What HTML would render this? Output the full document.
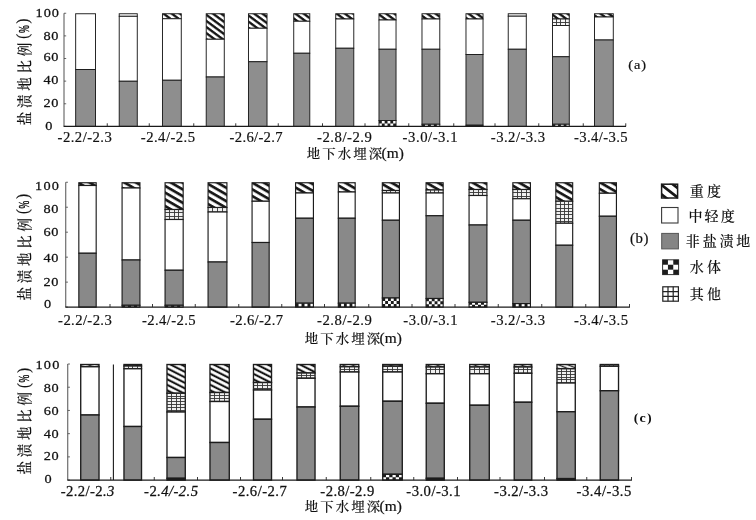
<!DOCTYPE html>
<html lang="zh">
<head>
<meta charset="utf-8">
<title>盐渍地比例 - 地下水埋深</title>
<style>html,body{margin:0;padding:0;background:#fff;}body{width:756px;height:520px;overflow:hidden;}svg{display:block;}</style>
</head>
<body>
<svg width="756" height="520" viewBox="0 0 756 520">
<defs>
<pattern id="pha" patternUnits="userSpaceOnUse" width="10" height="6.1" patternTransform="skewY(36.5)"><rect width="10" height="6.1" fill="#fff"/><rect y="1.0" width="10" height="2.9" fill="#151515"/></pattern>
<pattern id="phb" patternUnits="userSpaceOnUse" width="10" height="6.7" patternTransform="skewY(30)"><rect width="10" height="6.7" fill="#fff"/><rect y="2.0" width="10" height="3.1" fill="#151515"/></pattern>
<pattern id="phc" patternUnits="userSpaceOnUse" width="10" height="5.5" patternTransform="skewY(27)"><rect width="10" height="5.5" fill="#fff"/><rect y="1.5" width="10" height="2.35" fill="#151515"/></pattern>
<pattern id="phc2" patternUnits="userSpaceOnUse" width="10" height="3.8" patternTransform="skewY(22)"><rect width="10" height="3.8" fill="#fff"/><rect y="1.6" width="10" height="1.5" fill="#222"/></pattern>
</defs>
<rect width="756" height="520" fill="#fff"/>
<g class="chart-a">
<path d="M64.0 13.25V126.4" stroke="#3c3c3c" stroke-width="0.9" fill="none"/>
<path d="M64.0 13.25h2.2" stroke="#444" stroke-width="0.8" fill="none"/>
<path d="M64.0 35.88h2.2" stroke="#444" stroke-width="0.8" fill="none"/>
<path d="M64.0 58.51h2.2" stroke="#444" stroke-width="0.8" fill="none"/>
<path d="M64.0 81.14h2.2" stroke="#444" stroke-width="0.8" fill="none"/>
<path d="M64.0 103.77h2.2" stroke="#444" stroke-width="0.8" fill="none"/>
<path d="M64.0 126.40h2.2" stroke="#444" stroke-width="0.8" fill="none"/>
<rect x="75.67" y="13.75" width="19.85" height="55.75" fill="#fff" stroke="#1c1c1c" stroke-width="0.95"/>
<rect x="75.67" y="69.50" width="19.85" height="56.90" fill="#8e8e8e" stroke="#1c1c1c" stroke-width="0.95"/>
<rect x="119.22" y="13.75" width="18.05" height="2.55" fill="#fff" stroke="#1c1c1c" stroke-width="0.95"/>
<rect x="119.22" y="16.30" width="18.05" height="64.95" fill="#fff" stroke="#1c1c1c" stroke-width="0.95"/>
<rect x="119.22" y="81.25" width="18.05" height="45.15" fill="#8e8e8e" stroke="#1c1c1c" stroke-width="0.95"/>
<rect x="162.47" y="13.75" width="18.80" height="5.00" fill="url(#pha)" stroke="#1c1c1c" stroke-width="0.95"/>
<rect x="162.47" y="18.75" width="18.80" height="61.50" fill="#fff" stroke="#1c1c1c" stroke-width="0.95"/>
<rect x="162.47" y="80.25" width="18.80" height="46.15" fill="#8e8e8e" stroke="#1c1c1c" stroke-width="0.95"/>
<rect x="206.22" y="13.75" width="18.05" height="25.50" fill="url(#pha)" stroke="#1c1c1c" stroke-width="0.95"/>
<rect x="206.22" y="39.25" width="18.05" height="37.75" fill="#fff" stroke="#1c1c1c" stroke-width="0.95"/>
<rect x="206.22" y="77.00" width="18.05" height="49.40" fill="#8e8e8e" stroke="#1c1c1c" stroke-width="0.95"/>
<rect x="248.47" y="13.75" width="18.55" height="14.50" fill="url(#pha)" stroke="#1c1c1c" stroke-width="0.95"/>
<rect x="248.47" y="28.25" width="18.55" height="33.50" fill="#fff" stroke="#1c1c1c" stroke-width="0.95"/>
<rect x="248.47" y="61.75" width="18.55" height="64.65" fill="#8e8e8e" stroke="#1c1c1c" stroke-width="0.95"/>
<rect x="293.73" y="13.75" width="16.05" height="7.50" fill="url(#pha)" stroke="#1c1c1c" stroke-width="0.95"/>
<rect x="293.73" y="21.25" width="16.05" height="32.00" fill="#fff" stroke="#1c1c1c" stroke-width="0.95"/>
<rect x="293.73" y="53.25" width="16.05" height="73.15" fill="#8e8e8e" stroke="#1c1c1c" stroke-width="0.95"/>
<rect x="335.73" y="13.75" width="18.05" height="5.25" fill="url(#pha)" stroke="#1c1c1c" stroke-width="0.95"/>
<rect x="335.73" y="19.00" width="18.05" height="29.25" fill="#fff" stroke="#1c1c1c" stroke-width="0.95"/>
<rect x="335.73" y="48.25" width="18.05" height="78.15" fill="#8e8e8e" stroke="#1c1c1c" stroke-width="0.95"/>
<rect x="378.98" y="13.75" width="17.05" height="6.25" fill="url(#pha)" stroke="#1c1c1c" stroke-width="0.95"/>
<rect x="378.98" y="20.00" width="17.05" height="29.25" fill="#fff" stroke="#1c1c1c" stroke-width="0.95"/>
<rect x="378.98" y="49.25" width="17.05" height="71.25" fill="#8e8e8e" stroke="#1c1c1c" stroke-width="0.95"/>
<rect x="378.98" y="120.50" width="17.05" height="5.90" fill="#fff" stroke="#1c1c1c" stroke-width="0.95"/>
<path d="M378.98 120.50h2.84v2.95h-2.84zM384.66 120.50h2.84v2.95h-2.84zM390.34 120.50h2.84v2.95h-2.84zM381.82 123.45h2.84v2.95h-2.84zM387.50 123.45h2.84v2.95h-2.84zM393.18 123.45h2.84v2.95h-2.84z" fill="#1c1c1c"/>
<rect x="421.98" y="13.75" width="17.80" height="5.25" fill="url(#pha)" stroke="#1c1c1c" stroke-width="0.95"/>
<rect x="421.98" y="19.00" width="17.80" height="30.25" fill="#fff" stroke="#1c1c1c" stroke-width="0.95"/>
<rect x="421.98" y="49.25" width="17.80" height="75.00" fill="#8e8e8e" stroke="#1c1c1c" stroke-width="0.95"/>
<rect x="421.98" y="124.25" width="17.80" height="2.15" fill="#fff" stroke="#1c1c1c" stroke-width="0.95"/>
<path d="M421.98 124.25h2.97v2.15h-2.97zM427.91 124.25h2.97v2.15h-2.97zM433.84 124.25h2.97v2.15h-2.97z" fill="#1c1c1c"/>
<rect x="465.98" y="13.75" width="17.05" height="5.25" fill="url(#pha)" stroke="#1c1c1c" stroke-width="0.95"/>
<rect x="465.98" y="19.00" width="17.05" height="35.50" fill="#fff" stroke="#1c1c1c" stroke-width="0.95"/>
<rect x="465.98" y="54.50" width="17.05" height="70.70" fill="#8e8e8e" stroke="#1c1c1c" stroke-width="0.95"/>
<rect x="465.98" y="125.20" width="17.05" height="1.20" fill="#222" stroke="#1c1c1c" stroke-width="0.95"/>
<rect x="508.23" y="13.75" width="18.05" height="2.45" fill="#fff" stroke="#1c1c1c" stroke-width="0.95"/>
<rect x="508.23" y="16.20" width="18.05" height="33.05" fill="#fff" stroke="#1c1c1c" stroke-width="0.95"/>
<rect x="508.23" y="49.25" width="18.05" height="77.15" fill="#8e8e8e" stroke="#1c1c1c" stroke-width="0.95"/>
<rect x="552.48" y="13.75" width="16.80" height="5.25" fill="url(#pha)" stroke="#1c1c1c" stroke-width="0.95"/>
<rect x="552.48" y="19.00" width="16.80" height="6.50" fill="#f4f4f4" stroke="#1c1c1c" stroke-width="0.95"/>
<path d="M556.50 19.00V25.50M560.50 19.00V25.50M565.50 19.00V25.50M552.48 22.50h16.80" stroke="#333" stroke-width="0.9" fill="none"/>
<rect x="552.48" y="25.50" width="16.80" height="31.25" fill="#fff" stroke="#1c1c1c" stroke-width="0.95"/>
<rect x="552.48" y="56.75" width="16.80" height="67.50" fill="#8e8e8e" stroke="#1c1c1c" stroke-width="0.95"/>
<rect x="552.48" y="124.25" width="16.80" height="2.15" fill="#fff" stroke="#1c1c1c" stroke-width="0.95"/>
<path d="M552.48 124.25h2.80v2.15h-2.80zM558.08 124.25h2.80v2.15h-2.80zM563.67 124.25h2.80v2.15h-2.80z" fill="#1c1c1c"/>
<rect x="594.48" y="13.75" width="18.80" height="3.25" fill="url(#pha)" stroke="#1c1c1c" stroke-width="0.95"/>
<rect x="594.48" y="17.00" width="18.80" height="23.00" fill="#fff" stroke="#1c1c1c" stroke-width="0.95"/>
<rect x="594.48" y="40.00" width="18.80" height="86.40" fill="#8e8e8e" stroke="#1c1c1c" stroke-width="0.95"/>
<path d="M63.6 126.4H626.0" stroke="#1a1a1a" stroke-width="1.1" fill="none"/>
<path d="M107.25 126.4v-3.1" stroke="#222" stroke-width="0.9" fill="none"/>
<path d="M149.25 126.4v-3.1" stroke="#222" stroke-width="0.9" fill="none"/>
<path d="M193.75 126.4v-3.1" stroke="#222" stroke-width="0.9" fill="none"/>
<path d="M235.75 126.4v-3.1" stroke="#222" stroke-width="0.9" fill="none"/>
<path d="M278.25 126.4v-3.1" stroke="#222" stroke-width="0.9" fill="none"/>
<path d="M322.50 126.4v-3.1" stroke="#222" stroke-width="0.9" fill="none"/>
<path d="M365.00 126.4v-3.1" stroke="#222" stroke-width="0.9" fill="none"/>
<path d="M408.75 126.4v-3.1" stroke="#222" stroke-width="0.9" fill="none"/>
<path d="M453.75 126.4v-3.1" stroke="#222" stroke-width="0.9" fill="none"/>
<path d="M495.00 126.4v-3.1" stroke="#222" stroke-width="0.9" fill="none"/>
<path d="M538.75 126.4v-3.1" stroke="#222" stroke-width="0.9" fill="none"/>
<path d="M583.25 126.4v-3.1" stroke="#222" stroke-width="0.9" fill="none"/>
<path d="M625.75 126.4v-3.1" stroke="#222" stroke-width="0.9" fill="none"/>
<text transform="translate(57.60,142.00) scale(1.08,1.0)" font-family='"Liberation Serif", serif' font-size="13.6" letter-spacing="0.421" fill="#111" stroke="#111" stroke-width="0.18">-2.2/-2.3</text>
<text transform="translate(140.85,142.00) scale(1.08,1.0)" font-family='"Liberation Serif", serif' font-size="13.6" letter-spacing="0.421" fill="#111" stroke="#111" stroke-width="0.18">-2.4/-2.5</text>
<text transform="translate(229.60,142.00) scale(1.08,1.0)" font-family='"Liberation Serif", serif' font-size="13.6" letter-spacing="0.276" fill="#111" stroke="#111" stroke-width="0.18">-2.6/-2.7</text>
<text transform="translate(317.10,142.00) scale(1.08,1.0)" font-family='"Liberation Serif", serif' font-size="13.6" letter-spacing="0.479" fill="#111" stroke="#111" stroke-width="0.18">-2.8/-2.9</text>
<text transform="translate(402.60,142.00) scale(1.08,1.0)" font-family='"Liberation Serif", serif' font-size="13.6" letter-spacing="0.508" fill="#111" stroke="#111" stroke-width="0.18">-3.0/-3.1</text>
<text transform="translate(490.85,142.00) scale(1.08,1.0)" font-family='"Liberation Serif", serif' font-size="13.6" letter-spacing="0.421" fill="#111" stroke="#111" stroke-width="0.18">-3.2/-3.3</text>
<text transform="translate(574.10,142.00) scale(1.08,1.0)" font-family='"Liberation Serif", serif' font-size="13.6" letter-spacing="0.334" fill="#111" stroke="#111" stroke-width="0.18">-3.4/-3.5</text>
<text transform="translate(35.40,16.90) scale(1.06,1.0)" font-family='"Liberation Serif", serif' font-size="13.5" letter-spacing="1.017" fill="#111" stroke="#111" stroke-width="0.26">100</text>
<text transform="translate(43.40,39.50) scale(1.06,1.0)" font-family='"Liberation Serif", serif' font-size="13.5" letter-spacing="0.608" fill="#111" stroke="#111" stroke-width="0.26">80</text>
<text transform="translate(43.40,61.30) scale(1.06,1.0)" font-family='"Liberation Serif", serif' font-size="13.5" letter-spacing="0.608" fill="#111" stroke="#111" stroke-width="0.26">60</text>
<text transform="translate(43.40,84.20) scale(1.06,1.0)" font-family='"Liberation Serif", serif' font-size="13.5" letter-spacing="0.608" fill="#111" stroke="#111" stroke-width="0.26">40</text>
<text transform="translate(43.40,107.40) scale(1.06,1.0)" font-family='"Liberation Serif", serif' font-size="13.5" letter-spacing="0.608" fill="#111" stroke="#111" stroke-width="0.26">20</text>
<text transform="translate(45.30,129.70) scale(1.06,1.0)" font-family='"Liberation Serif", serif' font-size="13.5" letter-spacing="0.000" fill="#111" stroke="#111" stroke-width="0.26">0</text>
<text transform="translate(306.70,158.40) scale(1.06,1.0)" font-family='"Liberation Serif", "Noto Serif CJK SC", serif' font-size="12.7" font-weight="500" letter-spacing="1.920" fill="#111" stroke="#111" stroke-width="0.1">地下水埋深<tspan font-size="14.5" letter-spacing="0" dx="-2.4" dy="-0.1" stroke-width="0.2">(m)</tspan></text>
<text transform="translate(29.70,125.30) rotate(-90) scale(1.0,1.1)" font-family='"Liberation Serif", "Noto Serif CJK SC", serif' font-size="13.5" font-weight="500" letter-spacing="3.750" fill="#111" stroke="#111" stroke-width="0.1">盐渍地比例<tspan font-size="14.5" letter-spacing="0" dx="0.35" dy="-1.4" stroke-width="0.2">(</tspan><tspan font-size="14.1" letter-spacing="0" dx="0.8" dy="0.55" textLength="7.75" lengthAdjust="spacingAndGlyphs" stroke-width="0.4">%</tspan><tspan font-size="14.5" letter-spacing="0" dx="1.85" dy="-0.55" stroke-width="0.2">)</tspan></text>
<text transform="translate(628.31,69.25) scale(1.15,1.0)" font-family='"Liberation Serif", serif' font-size="12.5" letter-spacing="0.795" fill="#111" stroke="#111" stroke-width="0.2">(a)</text>
</g>
<g class="chart-b">
<path d="M65.75 182.25V307.1" stroke="#3c3c3c" stroke-width="0.9" fill="none"/>
<path d="M65.75 182.25h2.2" stroke="#444" stroke-width="0.8" fill="none"/>
<path d="M65.75 207.22h2.2" stroke="#444" stroke-width="0.8" fill="none"/>
<path d="M65.75 232.19h2.2" stroke="#444" stroke-width="0.8" fill="none"/>
<path d="M65.75 257.16h2.2" stroke="#444" stroke-width="0.8" fill="none"/>
<path d="M65.75 282.13h2.2" stroke="#444" stroke-width="0.8" fill="none"/>
<path d="M65.75 307.10h2.2" stroke="#444" stroke-width="0.8" fill="none"/>
<rect x="78.83" y="182.75" width="17.35" height="2.75" fill="url(#phb)" stroke="#1c1c1c" stroke-width="1.15"/>
<rect x="78.83" y="185.50" width="17.35" height="67.75" fill="#fff" stroke="#1c1c1c" stroke-width="1.15"/>
<rect x="78.83" y="253.25" width="17.35" height="53.85" fill="#898989" stroke="#1c1c1c" stroke-width="1.15"/>
<rect x="122.08" y="182.75" width="17.85" height="5.25" fill="url(#phb)" stroke="#1c1c1c" stroke-width="1.15"/>
<rect x="122.08" y="188.00" width="17.85" height="72.00" fill="#fff" stroke="#1c1c1c" stroke-width="1.15"/>
<rect x="122.08" y="260.00" width="17.85" height="45.30" fill="#898989" stroke="#1c1c1c" stroke-width="1.15"/>
<rect x="122.08" y="305.30" width="17.85" height="1.80" fill="#fff" stroke="#1c1c1c" stroke-width="1.15"/>
<path d="M122.08 305.30h2.98v1.80h-2.98zM128.03 305.30h2.98v1.80h-2.98zM133.98 305.30h2.98v1.80h-2.98z" fill="#1c1c1c"/>
<rect x="165.07" y="182.75" width="18.10" height="26.75" fill="url(#phb)" stroke="#1c1c1c" stroke-width="1.15"/>
<rect x="165.07" y="209.50" width="18.10" height="10.00" fill="#f0f0f0" stroke="#1c1c1c" stroke-width="1.15"/>
<path d="M169.50 209.50V219.50M174.50 209.50V219.50M178.50 209.50V219.50M165.07 212.50h18.10M165.07 216.50h18.10" stroke="#333" stroke-width="0.9" fill="none"/>
<rect x="165.07" y="219.50" width="18.10" height="50.75" fill="#fff" stroke="#1c1c1c" stroke-width="1.15"/>
<rect x="165.07" y="270.25" width="18.10" height="35.05" fill="#898989" stroke="#1c1c1c" stroke-width="1.15"/>
<rect x="165.07" y="305.30" width="18.10" height="1.80" fill="#fff" stroke="#1c1c1c" stroke-width="1.15"/>
<path d="M165.07 305.30h3.02v1.80h-3.02zM171.11 305.30h3.02v1.80h-3.02zM177.14 305.30h3.02v1.80h-3.02z" fill="#1c1c1c"/>
<rect x="208.07" y="182.75" width="18.85" height="24.75" fill="url(#phb)" stroke="#1c1c1c" stroke-width="1.15"/>
<rect x="208.07" y="207.50" width="18.85" height="4.50" fill="#f0f0f0" stroke="#1c1c1c" stroke-width="1.15"/>
<path d="M212.50 207.50V212.00M217.50 207.50V212.00M222.50 207.50V212.00" stroke="#333" stroke-width="0.9" fill="none"/>
<rect x="208.07" y="212.00" width="18.85" height="50.00" fill="#fff" stroke="#1c1c1c" stroke-width="1.15"/>
<rect x="208.07" y="262.00" width="18.85" height="45.10" fill="#898989" stroke="#1c1c1c" stroke-width="1.15"/>
<rect x="252.07" y="182.75" width="17.10" height="18.50" fill="url(#phb)" stroke="#1c1c1c" stroke-width="1.15"/>
<rect x="252.07" y="201.25" width="17.10" height="41.25" fill="#fff" stroke="#1c1c1c" stroke-width="1.15"/>
<rect x="252.07" y="242.50" width="17.10" height="64.60" fill="#898989" stroke="#1c1c1c" stroke-width="1.15"/>
<rect x="295.57" y="182.75" width="17.85" height="10.25" fill="url(#phb)" stroke="#1c1c1c" stroke-width="1.15"/>
<rect x="295.57" y="193.00" width="17.85" height="25.25" fill="#fff" stroke="#1c1c1c" stroke-width="1.15"/>
<rect x="295.57" y="218.25" width="17.85" height="84.95" fill="#898989" stroke="#1c1c1c" stroke-width="1.15"/>
<rect x="295.57" y="303.20" width="17.85" height="3.90" fill="#fff" stroke="#1c1c1c" stroke-width="1.15"/>
<path d="M295.57 303.20h2.98v3.90h-2.98zM301.52 303.20h2.98v3.90h-2.98zM307.48 303.20h2.98v3.90h-2.98z" fill="#1c1c1c"/>
<rect x="338.32" y="182.75" width="16.85" height="9.25" fill="url(#phb)" stroke="#1c1c1c" stroke-width="1.15"/>
<rect x="338.32" y="192.00" width="16.85" height="26.25" fill="#fff" stroke="#1c1c1c" stroke-width="1.15"/>
<rect x="338.32" y="218.25" width="16.85" height="84.95" fill="#898989" stroke="#1c1c1c" stroke-width="1.15"/>
<rect x="338.32" y="303.20" width="16.85" height="3.90" fill="#fff" stroke="#1c1c1c" stroke-width="1.15"/>
<path d="M338.32 303.20h2.81v3.90h-2.81zM343.94 303.20h2.81v3.90h-2.81zM349.56 303.20h2.81v3.90h-2.81z" fill="#1c1c1c"/>
<rect x="382.32" y="182.75" width="17.10" height="7.75" fill="url(#phb)" stroke="#1c1c1c" stroke-width="1.15"/>
<rect x="382.32" y="190.50" width="17.10" height="2.50" fill="#f0f0f0" stroke="#1c1c1c" stroke-width="1.15"/>
<path d="M386.50 190.50V193.00M390.50 190.50V193.00M395.50 190.50V193.00" stroke="#333" stroke-width="0.9" fill="none"/>
<rect x="382.32" y="193.00" width="17.10" height="27.25" fill="#fff" stroke="#1c1c1c" stroke-width="1.15"/>
<rect x="382.32" y="220.25" width="17.10" height="77.75" fill="#898989" stroke="#1c1c1c" stroke-width="1.15"/>
<rect x="382.32" y="298.00" width="17.10" height="9.10" fill="#fff" stroke="#1c1c1c" stroke-width="1.15"/>
<path d="M382.32 298.00h2.85v3.03h-2.85zM388.02 298.00h2.85v3.03h-2.85zM393.73 298.00h2.85v3.03h-2.85zM385.18 301.03h2.85v3.03h-2.85zM390.88 301.03h2.85v3.03h-2.85zM396.57 301.03h2.85v3.03h-2.85zM382.32 304.07h2.85v3.03h-2.85zM388.02 304.07h2.85v3.03h-2.85zM393.73 304.07h2.85v3.03h-2.85z" fill="#1c1c1c"/>
<rect x="426.07" y="182.75" width="17.10" height="7.25" fill="url(#phb)" stroke="#1c1c1c" stroke-width="1.15"/>
<rect x="426.07" y="190.00" width="17.10" height="3.00" fill="#f0f0f0" stroke="#1c1c1c" stroke-width="1.15"/>
<path d="M430.50 190.00V193.00M434.50 190.00V193.00M438.50 190.00V193.00" stroke="#333" stroke-width="0.9" fill="none"/>
<rect x="426.07" y="193.00" width="17.10" height="22.75" fill="#fff" stroke="#1c1c1c" stroke-width="1.15"/>
<rect x="426.07" y="215.75" width="17.10" height="82.75" fill="#898989" stroke="#1c1c1c" stroke-width="1.15"/>
<rect x="426.07" y="298.50" width="17.10" height="8.60" fill="#fff" stroke="#1c1c1c" stroke-width="1.15"/>
<path d="M426.07 298.50h2.85v2.87h-2.85zM431.77 298.50h2.85v2.87h-2.85zM437.48 298.50h2.85v2.87h-2.85zM428.93 301.37h2.85v2.87h-2.85zM434.62 301.37h2.85v2.87h-2.85zM440.32 301.37h2.85v2.87h-2.85zM426.07 304.23h2.85v2.87h-2.85zM431.77 304.23h2.85v2.87h-2.85zM437.48 304.23h2.85v2.87h-2.85z" fill="#1c1c1c"/>
<rect x="469.07" y="182.75" width="17.85" height="6.75" fill="url(#phb)" stroke="#1c1c1c" stroke-width="1.15"/>
<rect x="469.07" y="189.50" width="17.85" height="6.00" fill="#f0f0f0" stroke="#1c1c1c" stroke-width="1.15"/>
<path d="M473.50 189.50V195.50M478.50 189.50V195.50M482.50 189.50V195.50M469.07 192.50h17.85" stroke="#333" stroke-width="0.9" fill="none"/>
<rect x="469.07" y="195.50" width="17.85" height="29.50" fill="#fff" stroke="#1c1c1c" stroke-width="1.15"/>
<rect x="469.07" y="225.00" width="17.85" height="77.30" fill="#898989" stroke="#1c1c1c" stroke-width="1.15"/>
<rect x="469.07" y="302.30" width="17.85" height="4.80" fill="#fff" stroke="#1c1c1c" stroke-width="1.15"/>
<path d="M469.07 302.30h2.98v2.40h-2.98zM475.02 302.30h2.98v2.40h-2.98zM480.98 302.30h2.98v2.40h-2.98zM472.05 304.70h2.98v2.40h-2.98zM478.00 304.70h2.98v2.40h-2.98zM483.95 304.70h2.98v2.40h-2.98z" fill="#1c1c1c"/>
<rect x="512.83" y="182.75" width="17.60" height="6.75" fill="url(#phb)" stroke="#1c1c1c" stroke-width="1.15"/>
<rect x="512.83" y="189.50" width="17.60" height="9.25" fill="#f0f0f0" stroke="#1c1c1c" stroke-width="1.15"/>
<path d="M517.50 189.50V198.75M521.50 189.50V198.75M526.50 189.50V198.75M512.83 192.50h17.60M512.83 196.50h17.60" stroke="#333" stroke-width="0.9" fill="none"/>
<rect x="512.83" y="198.75" width="17.60" height="21.50" fill="#fff" stroke="#1c1c1c" stroke-width="1.15"/>
<rect x="512.83" y="220.25" width="17.60" height="83.35" fill="#898989" stroke="#1c1c1c" stroke-width="1.15"/>
<rect x="512.83" y="303.60" width="17.60" height="3.50" fill="#fff" stroke="#1c1c1c" stroke-width="1.15"/>
<path d="M512.83 303.60h2.93v3.50h-2.93zM518.69 303.60h2.93v3.50h-2.93zM524.56 303.60h2.93v3.50h-2.93z" fill="#1c1c1c"/>
<rect x="555.83" y="182.75" width="16.85" height="18.50" fill="url(#phb)" stroke="#1c1c1c" stroke-width="1.15"/>
<rect x="555.83" y="201.25" width="16.85" height="22.00" fill="#f0f0f0" stroke="#1c1c1c" stroke-width="1.15"/>
<path d="M560.50 201.25V223.25M564.50 201.25V223.25M568.50 201.25V223.25M555.83 204.50h16.85M555.83 208.50h16.85M555.83 211.50h16.85M555.83 214.50h16.85M555.83 218.50h16.85M555.83 221.50h16.85" stroke="#333" stroke-width="0.9" fill="none"/>
<rect x="555.83" y="223.25" width="16.85" height="22.00" fill="#fff" stroke="#1c1c1c" stroke-width="1.15"/>
<rect x="555.83" y="245.25" width="16.85" height="61.85" fill="#898989" stroke="#1c1c1c" stroke-width="1.15"/>
<rect x="599.33" y="182.75" width="17.10" height="10.50" fill="url(#phb)" stroke="#1c1c1c" stroke-width="1.15"/>
<rect x="599.33" y="193.25" width="17.10" height="23.00" fill="#fff" stroke="#1c1c1c" stroke-width="1.15"/>
<rect x="599.33" y="216.25" width="17.10" height="90.85" fill="#898989" stroke="#1c1c1c" stroke-width="1.15"/>
<path d="M65.35 307.1H629.9" stroke="#1a1a1a" stroke-width="1.1" fill="none"/>
<path d="M110.00 307.1v-3.1" stroke="#222" stroke-width="0.9" fill="none"/>
<path d="M152.50 307.1v-3.1" stroke="#222" stroke-width="0.9" fill="none"/>
<path d="M195.25 307.1v-3.1" stroke="#222" stroke-width="0.9" fill="none"/>
<path d="M238.75 307.1v-3.1" stroke="#222" stroke-width="0.9" fill="none"/>
<path d="M281.75 307.1v-3.1" stroke="#222" stroke-width="0.9" fill="none"/>
<path d="M324.50 307.1v-3.1" stroke="#222" stroke-width="0.9" fill="none"/>
<path d="M368.75 307.1v-3.1" stroke="#222" stroke-width="0.9" fill="none"/>
<path d="M412.00 307.1v-3.1" stroke="#222" stroke-width="0.9" fill="none"/>
<path d="M455.00 307.1v-3.1" stroke="#222" stroke-width="0.9" fill="none"/>
<path d="M498.25 307.1v-3.1" stroke="#222" stroke-width="0.9" fill="none"/>
<path d="M541.75 307.1v-3.1" stroke="#222" stroke-width="0.9" fill="none"/>
<path d="M585.75 307.1v-3.1" stroke="#222" stroke-width="0.9" fill="none"/>
<path d="M629.50 307.1v-3.1" stroke="#222" stroke-width="0.9" fill="none"/>
<text transform="translate(58.10,325.30) scale(1.08,1.0)" font-family='"Liberation Serif", serif' font-size="13.6" letter-spacing="0.363" fill="#111" stroke="#111" stroke-width="0.18">-2.2/-2.3</text>
<text transform="translate(142.10,325.30) scale(1.08,1.0)" font-family='"Liberation Serif", serif' font-size="13.6" letter-spacing="0.334" fill="#111" stroke="#111" stroke-width="0.18">-2.4/-2.5</text>
<text transform="translate(230.10,325.30) scale(1.08,1.0)" font-family='"Liberation Serif", serif' font-size="13.6" letter-spacing="0.276" fill="#111" stroke="#111" stroke-width="0.18">-2.6/-2.7</text>
<text transform="translate(317.10,325.30) scale(1.08,1.0)" font-family='"Liberation Serif", serif' font-size="13.6" letter-spacing="0.479" fill="#111" stroke="#111" stroke-width="0.18">-2.8/-2.9</text>
<text transform="translate(403.35,325.30) scale(1.08,1.0)" font-family='"Liberation Serif", serif' font-size="13.6" letter-spacing="0.421" fill="#111" stroke="#111" stroke-width="0.18">-3.0/-3.1</text>
<text transform="translate(490.85,325.30) scale(1.08,1.0)" font-family='"Liberation Serif", serif' font-size="13.6" letter-spacing="0.421" fill="#111" stroke="#111" stroke-width="0.18">-3.2/-3.3</text>
<text transform="translate(574.10,325.30) scale(1.08,1.0)" font-family='"Liberation Serif", serif' font-size="13.6" letter-spacing="0.392" fill="#111" stroke="#111" stroke-width="0.18">-3.4/-3.5</text>
<text transform="translate(35.10,189.70) scale(1.06,1.0)" font-family='"Liberation Serif", serif' font-size="13.5" letter-spacing="1.158" fill="#111" stroke="#111" stroke-width="0.26">100</text>
<text transform="translate(43.40,213.20) scale(1.06,1.0)" font-family='"Liberation Serif", serif' font-size="13.5" letter-spacing="0.608" fill="#111" stroke="#111" stroke-width="0.26">80</text>
<text transform="translate(43.40,236.30) scale(1.06,1.0)" font-family='"Liberation Serif", serif' font-size="13.5" letter-spacing="0.608" fill="#111" stroke="#111" stroke-width="0.26">60</text>
<text transform="translate(43.40,261.60) scale(1.06,1.0)" font-family='"Liberation Serif", serif' font-size="13.5" letter-spacing="0.608" fill="#111" stroke="#111" stroke-width="0.26">40</text>
<text transform="translate(43.40,286.30) scale(1.06,1.0)" font-family='"Liberation Serif", serif' font-size="13.5" letter-spacing="0.608" fill="#111" stroke="#111" stroke-width="0.26">20</text>
<text transform="translate(44.10,308.30) scale(1.06,1.0)" font-family='"Liberation Serif", serif' font-size="13.5" letter-spacing="0.000" fill="#111" stroke="#111" stroke-width="0.26">0</text>
<text transform="translate(304.70,342.70) scale(1.06,1.0)" font-family='"Liberation Serif", "Noto Serif CJK SC", serif' font-size="12.7" font-weight="500" letter-spacing="1.920" fill="#111" stroke="#111" stroke-width="0.1">地下水埋深<tspan font-size="14.5" letter-spacing="0" dx="-2.4" dy="-0.1" stroke-width="0.2">(m)</tspan></text>
<text transform="translate(29.80,300.60) rotate(-90) scale(1.0,1.1)" font-family='"Liberation Serif", "Noto Serif CJK SC", serif' font-size="13.5" font-weight="500" letter-spacing="3.750" fill="#111" stroke="#111" stroke-width="0.1">盐渍地比例<tspan font-size="14.5" letter-spacing="0" dx="0.35" dy="-1.4" stroke-width="0.2">(</tspan><tspan font-size="14.1" letter-spacing="0" dx="0.8" dy="0.55" textLength="7.75" lengthAdjust="spacingAndGlyphs" stroke-width="0.4">%</tspan><tspan font-size="14.5" letter-spacing="0" dx="1.85" dy="-0.55" stroke-width="0.2">)</tspan></text>
<text transform="translate(630.11,243.14) scale(1.06,1.0)" font-family='"Liberation Serif", serif' font-size="14" letter-spacing="0.543" fill="#111" stroke="#111" stroke-width="0.2">(b)</text>
</g>
<g class="chart-c">
<path d="M67.75 364.0V480.1" stroke="#3c3c3c" stroke-width="0.9" fill="none"/>
<path d="M67.75 364.00h2.2" stroke="#444" stroke-width="0.8" fill="none"/>
<path d="M67.75 387.22h2.2" stroke="#444" stroke-width="0.8" fill="none"/>
<path d="M67.75 410.44h2.2" stroke="#444" stroke-width="0.8" fill="none"/>
<path d="M67.75 433.66h2.2" stroke="#444" stroke-width="0.8" fill="none"/>
<path d="M67.75 456.88h2.2" stroke="#444" stroke-width="0.8" fill="none"/>
<path d="M67.75 480.10h2.2" stroke="#444" stroke-width="0.8" fill="none"/>
<rect x="80.72" y="364.50" width="18.30" height="2.25" fill="url(#phc2)" stroke="#1c1c1c" stroke-width="1.35"/>
<rect x="80.72" y="366.75" width="18.30" height="48.25" fill="#fff" stroke="#1c1c1c" stroke-width="1.35"/>
<rect x="80.72" y="415.00" width="18.30" height="65.10" fill="#898989" stroke="#1c1c1c" stroke-width="1.35"/>
<rect x="123.97" y="364.50" width="17.55" height="1.50" fill="url(#phc2)" stroke="#1c1c1c" stroke-width="1.35"/>
<rect x="123.97" y="366.00" width="17.55" height="2.75" fill="#f0f0f0" stroke="#1c1c1c" stroke-width="1.35"/>
<path d="M128.50 366.00V368.75M132.50 366.00V368.75M137.50 366.00V368.75" stroke="#333" stroke-width="0.9" fill="none"/>
<rect x="123.97" y="368.75" width="17.55" height="57.75" fill="#fff" stroke="#1c1c1c" stroke-width="1.35"/>
<rect x="123.97" y="426.50" width="17.55" height="53.60" fill="#898989" stroke="#1c1c1c" stroke-width="1.35"/>
<rect x="166.98" y="364.50" width="18.30" height="28.75" fill="url(#phc)" stroke="#1c1c1c" stroke-width="1.35"/>
<rect x="166.98" y="393.25" width="18.30" height="18.75" fill="#f0f0f0" stroke="#1c1c1c" stroke-width="1.35"/>
<path d="M171.50 393.25V412.00M176.50 393.25V412.00M180.50 393.25V412.00M166.98 396.50h18.30M166.98 398.50h18.30M166.98 401.50h18.30M166.98 404.50h18.30M166.98 407.50h18.30M166.98 410.50h18.30" stroke="#333" stroke-width="0.9" fill="none"/>
<rect x="166.98" y="412.00" width="18.30" height="45.50" fill="#fff" stroke="#1c1c1c" stroke-width="1.35"/>
<rect x="166.98" y="457.50" width="18.30" height="20.80" fill="#898989" stroke="#1c1c1c" stroke-width="1.35"/>
<rect x="166.98" y="478.30" width="18.30" height="1.80" fill="#222" stroke="#1c1c1c" stroke-width="1.35"/>
<rect x="209.98" y="364.50" width="19.30" height="28.00" fill="url(#phc)" stroke="#1c1c1c" stroke-width="1.35"/>
<rect x="209.98" y="392.50" width="19.30" height="9.00" fill="#f0f0f0" stroke="#1c1c1c" stroke-width="1.35"/>
<path d="M214.50 392.50V401.50M219.50 392.50V401.50M224.50 392.50V401.50M209.98 395.50h19.30M209.98 398.50h19.30" stroke="#333" stroke-width="0.9" fill="none"/>
<rect x="209.98" y="401.50" width="19.30" height="41.00" fill="#fff" stroke="#1c1c1c" stroke-width="1.35"/>
<rect x="209.98" y="442.50" width="19.30" height="37.60" fill="#898989" stroke="#1c1c1c" stroke-width="1.35"/>
<rect x="253.48" y="364.50" width="18.05" height="18.00" fill="url(#phc)" stroke="#1c1c1c" stroke-width="1.35"/>
<rect x="253.48" y="382.50" width="18.05" height="7.50" fill="#f0f0f0" stroke="#1c1c1c" stroke-width="1.35"/>
<path d="M257.50 382.50V390.00M262.50 382.50V390.00M267.50 382.50V390.00M253.48 385.50h18.05M253.48 388.50h18.05" stroke="#333" stroke-width="0.9" fill="none"/>
<rect x="253.48" y="390.00" width="18.05" height="29.25" fill="#fff" stroke="#1c1c1c" stroke-width="1.35"/>
<rect x="253.48" y="419.25" width="18.05" height="60.85" fill="#898989" stroke="#1c1c1c" stroke-width="1.35"/>
<rect x="296.98" y="364.50" width="18.05" height="8.50" fill="url(#phc)" stroke="#1c1c1c" stroke-width="1.35"/>
<rect x="296.98" y="373.00" width="18.05" height="5.25" fill="#f0f0f0" stroke="#1c1c1c" stroke-width="1.35"/>
<path d="M301.50 373.00V378.25M306.50 373.00V378.25M310.50 373.00V378.25M296.98 375.50h18.05" stroke="#333" stroke-width="0.9" fill="none"/>
<rect x="296.98" y="378.25" width="18.05" height="28.75" fill="#fff" stroke="#1c1c1c" stroke-width="1.35"/>
<rect x="296.98" y="407.00" width="18.05" height="73.10" fill="#898989" stroke="#1c1c1c" stroke-width="1.35"/>
<rect x="340.23" y="364.50" width="18.55" height="2.25" fill="url(#phc2)" stroke="#1c1c1c" stroke-width="1.35"/>
<rect x="340.23" y="366.75" width="18.55" height="5.25" fill="#f0f0f0" stroke="#1c1c1c" stroke-width="1.35"/>
<path d="M344.50 366.75V372.00M349.50 366.75V372.00M354.50 366.75V372.00M340.23 369.50h18.55" stroke="#333" stroke-width="0.9" fill="none"/>
<rect x="340.23" y="372.00" width="18.55" height="34.25" fill="#fff" stroke="#1c1c1c" stroke-width="1.35"/>
<rect x="340.23" y="406.25" width="18.55" height="73.85" fill="#898989" stroke="#1c1c1c" stroke-width="1.35"/>
<rect x="382.73" y="364.50" width="19.55" height="1.75" fill="url(#phc2)" stroke="#1c1c1c" stroke-width="1.35"/>
<rect x="382.73" y="366.25" width="19.55" height="5.75" fill="#f0f0f0" stroke="#1c1c1c" stroke-width="1.35"/>
<path d="M387.50 366.25V372.00M392.50 366.25V372.00M397.50 366.25V372.00M382.73 369.50h19.55" stroke="#333" stroke-width="0.9" fill="none"/>
<rect x="382.73" y="372.00" width="19.55" height="29.25" fill="#fff" stroke="#1c1c1c" stroke-width="1.35"/>
<rect x="382.73" y="401.25" width="19.55" height="73.05" fill="#898989" stroke="#1c1c1c" stroke-width="1.35"/>
<rect x="382.73" y="474.30" width="19.55" height="5.80" fill="#fff" stroke="#1c1c1c" stroke-width="1.35"/>
<path d="M382.73 474.30h3.26v2.90h-3.26zM389.24 474.30h3.26v2.90h-3.26zM395.76 474.30h3.26v2.90h-3.26zM385.98 477.20h3.26v2.90h-3.26zM392.50 477.20h3.26v2.90h-3.26zM399.02 477.20h3.26v2.90h-3.26z" fill="#1c1c1c"/>
<rect x="426.23" y="364.50" width="18.05" height="2.50" fill="url(#phc2)" stroke="#1c1c1c" stroke-width="1.35"/>
<rect x="426.23" y="367.00" width="18.05" height="6.75" fill="#f0f0f0" stroke="#1c1c1c" stroke-width="1.35"/>
<path d="M430.50 367.00V373.75M435.50 367.00V373.75M439.50 367.00V373.75M426.23 369.50h18.05" stroke="#333" stroke-width="0.9" fill="none"/>
<rect x="426.23" y="373.75" width="18.05" height="29.50" fill="#fff" stroke="#1c1c1c" stroke-width="1.35"/>
<rect x="426.23" y="403.25" width="18.05" height="75.05" fill="#898989" stroke="#1c1c1c" stroke-width="1.35"/>
<rect x="426.23" y="478.30" width="18.05" height="1.80" fill="#222" stroke="#1c1c1c" stroke-width="1.35"/>
<rect x="469.73" y="364.50" width="19.55" height="2.50" fill="url(#phc2)" stroke="#1c1c1c" stroke-width="1.35"/>
<rect x="469.73" y="367.00" width="19.55" height="6.75" fill="#f0f0f0" stroke="#1c1c1c" stroke-width="1.35"/>
<path d="M474.50 367.00V373.75M479.50 367.00V373.75M484.50 367.00V373.75M469.73 369.50h19.55" stroke="#333" stroke-width="0.9" fill="none"/>
<rect x="469.73" y="373.75" width="19.55" height="31.50" fill="#fff" stroke="#1c1c1c" stroke-width="1.35"/>
<rect x="469.73" y="405.25" width="19.55" height="74.85" fill="#898989" stroke="#1c1c1c" stroke-width="1.35"/>
<rect x="514.22" y="364.50" width="17.55" height="2.50" fill="url(#phc2)" stroke="#1c1c1c" stroke-width="1.35"/>
<rect x="514.22" y="367.00" width="17.55" height="6.25" fill="#f0f0f0" stroke="#1c1c1c" stroke-width="1.35"/>
<path d="M518.50 367.00V373.25M523.50 367.00V373.25M527.50 367.00V373.25M514.22 369.50h17.55" stroke="#333" stroke-width="0.9" fill="none"/>
<rect x="514.22" y="373.25" width="17.55" height="29.00" fill="#fff" stroke="#1c1c1c" stroke-width="1.35"/>
<rect x="514.22" y="402.25" width="17.55" height="77.85" fill="#898989" stroke="#1c1c1c" stroke-width="1.35"/>
<rect x="556.97" y="364.50" width="18.30" height="4.25" fill="url(#phc2)" stroke="#1c1c1c" stroke-width="1.35"/>
<rect x="556.97" y="368.75" width="18.30" height="14.25" fill="#f0f0f0" stroke="#1c1c1c" stroke-width="1.35"/>
<path d="M561.50 368.75V383.00M566.50 368.75V383.00M570.50 368.75V383.00M556.97 371.50h18.30M556.97 374.50h18.30M556.97 377.50h18.30M556.97 379.50h18.30" stroke="#333" stroke-width="0.9" fill="none"/>
<rect x="556.97" y="383.00" width="18.30" height="28.75" fill="#fff" stroke="#1c1c1c" stroke-width="1.35"/>
<rect x="556.97" y="411.75" width="18.30" height="66.85" fill="#898989" stroke="#1c1c1c" stroke-width="1.35"/>
<rect x="556.97" y="478.60" width="18.30" height="1.50" fill="#222" stroke="#1c1c1c" stroke-width="1.35"/>
<rect x="600.22" y="364.50" width="18.30" height="1.75" fill="#f0f0f0" stroke="#1c1c1c" stroke-width="1.35"/>
<path d="M604.50 364.50V366.25M609.50 364.50V366.25M613.50 364.50V366.25" stroke="#333" stroke-width="0.9" fill="none"/>
<rect x="600.22" y="366.25" width="18.30" height="24.50" fill="#fff" stroke="#1c1c1c" stroke-width="1.35"/>
<rect x="600.22" y="390.75" width="18.30" height="89.35" fill="#898989" stroke="#1c1c1c" stroke-width="1.35"/>
<path d="M113.4 364.5V480.1" stroke="#1a1a1a" stroke-width="1.1" fill="none"/>
<path d="M67.35 480.1H631.9" stroke="#1a1a1a" stroke-width="1.1" fill="none"/>
<path d="M110.75 480.1v-3.1" stroke="#222" stroke-width="0.9" fill="none"/>
<path d="M154.25 480.1v-3.1" stroke="#222" stroke-width="0.9" fill="none"/>
<path d="M197.50 480.1v-3.1" stroke="#222" stroke-width="0.9" fill="none"/>
<path d="M240.50 480.1v-3.1" stroke="#222" stroke-width="0.9" fill="none"/>
<path d="M282.50 480.1v-3.1" stroke="#222" stroke-width="0.9" fill="none"/>
<path d="M326.25 480.1v-3.1" stroke="#222" stroke-width="0.9" fill="none"/>
<path d="M370.75 480.1v-3.1" stroke="#222" stroke-width="0.9" fill="none"/>
<path d="M413.75 480.1v-3.1" stroke="#222" stroke-width="0.9" fill="none"/>
<path d="M457.50 480.1v-3.1" stroke="#222" stroke-width="0.9" fill="none"/>
<path d="M500.00 480.1v-3.1" stroke="#222" stroke-width="0.9" fill="none"/>
<path d="M544.50 480.1v-3.1" stroke="#222" stroke-width="0.9" fill="none"/>
<path d="M586.75 480.1v-3.1" stroke="#222" stroke-width="0.9" fill="none"/>
<path d="M631.50 480.1v-3.1" stroke="#222" stroke-width="0.9" fill="none"/>
<text transform="translate(60.85,495.80) scale(1.08,1.0)" font-family='"Liberation Serif", serif' font-size="13.6" letter-spacing="0.334" fill="#111" stroke="#111" stroke-width="0.25">-2.2/-2<tspan font-style="italic">.3</tspan></text>
<text transform="translate(144.10,495.80) scale(1.08,1.0)" font-family='"Liberation Serif", serif' font-size="13.6" letter-spacing="0.392" fill="#111" stroke="#111" stroke-width="0.25">-2<tspan font-style="italic">.4/-2.5</tspan></text>
<text transform="translate(232.60,495.80) scale(1.08,1.0)" font-family='"Liberation Serif", serif' font-size="13.6" letter-spacing="0.421" fill="#111" stroke="#111" stroke-width="0.25">-2.6/-2.7</text>
<text transform="translate(320.35,495.80) scale(1.08,1.0)" font-family='"Liberation Serif", serif' font-size="13.6" letter-spacing="0.392" fill="#111" stroke="#111" stroke-width="0.25">-2.8/-2.9</text>
<text transform="translate(406.35,495.80) scale(1.08,1.0)" font-family='"Liberation Serif", serif' font-size="13.6" letter-spacing="0.421" fill="#111" stroke="#111" stroke-width="0.25">-3.0/-3.1</text>
<text transform="translate(494.10,495.80) scale(1.08,1.0)" font-family='"Liberation Serif", serif' font-size="13.6" letter-spacing="0.392" fill="#111" stroke="#111" stroke-width="0.25">-3.2/-3.3</text>
<text transform="translate(576.60,495.80) scale(1.08,1.0)" font-family='"Liberation Serif", serif' font-size="13.6" letter-spacing="0.479" fill="#111" stroke="#111" stroke-width="0.25">-3.4/-3.5</text>
<text transform="translate(35.40,368.70) scale(1.06,1.0)" font-family='"Liberation Serif", serif' font-size="13.5" letter-spacing="1.205" fill="#111" stroke="#111" stroke-width="0.26">100</text>
<text transform="translate(43.70,391.60) scale(1.06,1.0)" font-family='"Liberation Serif", serif' font-size="13.5" letter-spacing="0.608" fill="#111" stroke="#111" stroke-width="0.26">80</text>
<text transform="translate(43.70,414.50) scale(1.06,1.0)" font-family='"Liberation Serif", serif' font-size="13.5" letter-spacing="0.608" fill="#111" stroke="#111" stroke-width="0.26">60</text>
<text transform="translate(43.70,438.30) scale(1.06,1.0)" font-family='"Liberation Serif", serif' font-size="13.5" letter-spacing="0.608" fill="#111" stroke="#111" stroke-width="0.26">40</text>
<text transform="translate(43.70,460.40) scale(1.06,1.0)" font-family='"Liberation Serif", serif' font-size="13.5" letter-spacing="0.608" fill="#111" stroke="#111" stroke-width="0.26">20</text>
<text transform="translate(44.50,483.10) scale(1.06,1.0)" font-family='"Liberation Serif", serif' font-size="13.5" letter-spacing="0.000" fill="#111" stroke="#111" stroke-width="0.26">0</text>
<text transform="translate(304.70,511.40) scale(1.06,1.0)" font-family='"Liberation Serif", "Noto Serif CJK SC", serif' font-size="12.7" font-weight="500" letter-spacing="1.920" fill="#111" stroke="#111" stroke-width="0.1">地下水埋深<tspan font-size="14.5" letter-spacing="0" dx="-2.4" dy="-0.1" stroke-width="0.2">(m)</tspan></text>
<text transform="translate(30.20,474.60) rotate(-90) scale(1.0,1.1)" font-family='"Liberation Serif", "Noto Serif CJK SC", serif' font-size="13.5" font-weight="500" letter-spacing="3.750" fill="#111" stroke="#111" stroke-width="0.1">盐渍地比例<tspan font-size="14.5" letter-spacing="0" dx="0.35" dy="-1.4" stroke-width="0.2">(</tspan><tspan font-size="14.1" letter-spacing="0" dx="0.8" dy="0.55" textLength="7.75" lengthAdjust="spacingAndGlyphs" stroke-width="0.4">%</tspan><tspan font-size="14.5" letter-spacing="0" dx="1.85" dy="-0.55" stroke-width="0.2">)</tspan></text>
<text transform="translate(633.77,421.74) scale(1.22,1.0)" font-family='"Liberation Serif", serif' font-size="11.5" font-weight="bold" letter-spacing="0.932" fill="#111">(c)</text>
</g>
<g class="legend">
<clipPath id="cl1"><rect x="661.2" y="183.8" width="16.8" height="14.6"/></clipPath>
<rect x="661.2" y="183.8" width="16.8" height="14.6" fill="#fff"/>
<g clip-path="url(#cl1)" stroke="#161616" stroke-width="2.7" fill="none"><path d="M655 179.87L684 202.49"/><path d="M655 189.27L684 211.89"/><path d="M655 170.47L684 193.09"/></g>
<rect x="661.6" y="184.2" width="16" height="13.8" fill="none" stroke="#1a1a1a" stroke-width="1.5"/>
<rect x="661.6" y="207.5" width="16.4" height="15.5" fill="#fff" stroke="#3a3a3a" stroke-width="1.1"/>
<rect x="661.7" y="233.4" width="16.7" height="15.5" fill="#858585" stroke="#555" stroke-width="1"/>
<rect x="662.6" y="259.8" width="16" height="14.8" fill="#fff" stroke="#333" stroke-width="1"/>
<rect x="662.60" y="259.80" width="5.33" height="4.93" fill="#1c1c1c"/>
<rect x="673.27" y="259.80" width="5.33" height="4.93" fill="#1c1c1c"/>
<rect x="667.93" y="264.73" width="5.33" height="4.93" fill="#1c1c1c"/>
<rect x="662.60" y="269.67" width="5.33" height="4.93" fill="#1c1c1c"/>
<rect x="673.27" y="269.67" width="5.33" height="4.93" fill="#1c1c1c"/>
<rect x="662.8" y="286.8" width="15.6" height="14.4" fill="#fff" stroke="#222" stroke-width="1.2"/>
<path d="M668.00 286.8v14.4M673.20 286.8v14.4M662.8 291.60h15.6M662.8 296.40h15.6" stroke="#222" stroke-width="1.2" fill="none"/>
<text transform="translate(689.70,196.40) scale(1.0,1.0)" font-family='"Liberation Serif", "Noto Serif CJK SC", serif' font-size="14" font-weight="500" letter-spacing="3.200" fill="#111" stroke="#111" stroke-width="0.1">重度</text>
<text transform="translate(688.40,220.70) scale(1.0,1.0)" font-family='"Liberation Serif", "Noto Serif CJK SC", serif' font-size="14" font-weight="500" letter-spacing="2.150" fill="#111" stroke="#111" stroke-width="0.1">中轻度</text>
<text transform="translate(685.80,246.10) scale(1.0,1.0)" font-family='"Liberation Serif", "Noto Serif CJK SC", serif' font-size="14" font-weight="500" letter-spacing="2.833" fill="#111" stroke="#111" stroke-width="0.1">非盐渍地</text>
<text transform="translate(689.70,272.30) scale(1.0,1.0)" font-family='"Liberation Serif", "Noto Serif CJK SC", serif' font-size="14" font-weight="500" letter-spacing="3.200" fill="#111" stroke="#111" stroke-width="0.1">水体</text>
<text transform="translate(689.70,298.90) scale(1.0,1.0)" font-family='"Liberation Serif", "Noto Serif CJK SC", serif' font-size="14" font-weight="500" letter-spacing="3.200" fill="#111" stroke="#111" stroke-width="0.1">其他</text>
</g>
</svg>
</body>
</html>
